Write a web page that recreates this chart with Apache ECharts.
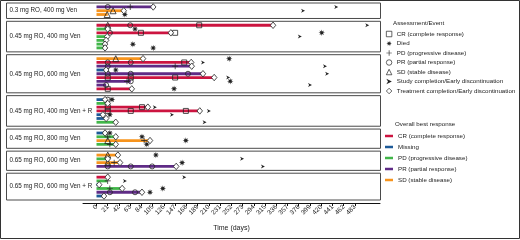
<!DOCTYPE html>
<html>
<head>
<meta charset="utf-8">
<style>
  html, body { margin: 0; padding: 0; background: #fff; }
  #chart { width: 520px; height: 240px; }
</style>
<script src="https://cdn.jsdelivr.net/npm/echarts@6/dist/echarts.min.js"></script>
</head>
<body>
<div id="chart"></div>
<script>
/* Swimmer plot: one bar per patient, grouped by cohort, with assessment markers */

const FONT = 'Liberation Sans, Arial, sans-serif';

// Cohorts (panels) and how many patients each holds
const panelNames = [
  '0.3 mg RO, 400 mg Ven',
  '0.45 mg RO, 400 mg Ven',
  '0.45 mg RO, 600 mg Ven',
  '0.45 mg RO, 400 mg Ven + R',
  '0.45 mg RO, 800 mg Ven',
  '0.65 mg RO, 600 mg Ven',
  '0.65 mg RO, 600 mg Ven + R',
];
const panelRows = [3, 7, 9, 7, 4, 4, 6];

// Overall best response per patient row (top to bottom) and last day on treatment
const rowResponse = [
  'PR', 'SD', 'SD',
  'CR', 'PD', 'CR', 'PD', 'PD', 'PD', 'PD',
  'SD', 'CR', 'PR', 'Missing', 'PR', 'CR', 'PR', 'PR', 'CR',
  'Missing', 'PD', 'CR', 'CR', 'Missing', 'Missing', 'PD',
  'Missing', 'PD', 'SD', 'PD',
  'SD', 'PD', 'SD', 'PR',
  'CR', 'PD', 'Missing', 'PD', 'PR', 'Missing',
];
const rowEnd = [
  106, 51, 21,
  330, 21, 139, 20, 18, 16, 16,
  87, 177, 178, 16, 199, 220, 64, 18, 66,
  16, 21, 98, 193, 12, 18, 35,
  16, 36, 100, 36,
  40, 21, 44, 149,
  20, 20, 5, 48, 85, 14,
];

// Assessment / event markers: [row, day]
const crMarks = [[3, 192], [5, 83], [5, 147], [11, 164], [15, 21], [15, 64], [15, 147], [18, 21],
  [21, 21], [21, 85], [22, 21], [22, 64], [22, 167]];
const diedMarks = [[2, 53], [4, 72], [5, 421], [8, 68], [9, 106], [10, 248], [13, 36], [16, 250],
  [18, 145], [19, 29], [23, 25], [26, 25], [27, 85], [28, 167], [29, 94], [30, 111], [32, 160],
  [37, 124], [38, 100]];
const pdMarks = [[0, 63], [12, 147], [16, 57], [27, 21], [28, 89], [29, 25], [32, 33], [35, 21], [37, 25]];
const prMarks = [[0, 21], [3, 63], [5, 25], [11, 21], [11, 64], [12, 21], [14, 21], [14, 64], [14, 171],
  [16, 64], [17, 18], [19, 21], [33, 21], [33, 64], [33, 104], [38, 25], [38, 72]];
const sdMarks = [[1, 31], [2, 20], [3, 21], [10, 36], [28, 21], [30, 21], [32, 21]];
const studyMarks = [[0, 448], [1, 386], [3, 506], [6, 380], [11, 199], [12, 427], [14, 431], [15, 246],
  [17, 399], [21, 109], [22, 210], [23, 141], [25, 202], [31, 272], [33, 311], [34, 164], [35, 53]];
const treatMarks = [[0, 106], [1, 51], [3, 330], [4, 21], [5, 139], [6, 20], [7, 18], [8, 16], [9, 16],
  [10, 87], [11, 177], [12, 178], [13, 18], [14, 199], [15, 220], [18, 66], [19, 16], [20, 21],
  [21, 96], [22, 193], [23, 12], [24, 18], [25, 36], [26, 16], [27, 36], [28, 100], [29, 36],
  [30, 40], [31, 21], [32, 44], [33, 149], [34, 21], [36, 5], [37, 48], [38, 85], [39, 14]];

// Legend texts and colours
const responseKeys = ['CR', 'Missing', 'PD', 'PR', 'SD'];
const responseNames = ['CR (complete response)', 'Missing', 'PD (progressive disease)',
  'PR (partial response)', 'SD (stable disease)'];
const responseColors = ['#cc1440', '#1d5a98', '#41b649', '#5f2b86', '#f7941d'];

const dayTicks = [0, 21, 42, 63, 84, 105, 126, 147, 168, 189, 210, 231, 252, 273, 294, 315,
  336, 357, 378, 399, 420, 441, 462, 483];

// Row layout (in row units): padding inside each panel box and gap between boxes
const PAD = 0.55, GAP = 0.75;
const rowY = [];
const panelBox = [];
let cursor = 0;
panelRows.forEach((n, p) => {
  const top = cursor;
  for (let i = 0; i < n; i++) rowY.push(top + PAD + 0.5 + i);
  const bottom = top + n + 2 * PAD;
  panelBox.push([top, bottom, p]);
  cursor = bottom + GAP;
});
const yMax = cursor - GAP;

// x scale: day 0 at 96.5px, 0.535 px per day
const PXD = 0.535, X0 = 96.5;
const dataLeft = 6, dataWidth = 375;
const axisLeft = 83, axisWidth = 297;
const xMin = -(X0 - dataLeft) / PXD, xMax = xMin + dataWidth / PXD;
const x2Min = -(X0 - axisLeft) / PXD, x2Max = x2Min + axisWidth / PXD;

const star = (() => {
  const pts = [];
  for (let k = 0; k < 16; k++) {
    const a = Math.PI * k / 8;
    const r = k % 2 ? 0.42 : 1;
    pts.push((5 + 5 * r * Math.sin(a)).toFixed(2) + ',' + (5 - 5 * r * Math.cos(a)).toFixed(2));
  }
  return 'path://M' + pts.join('L') + 'Z';
})();
const plus = 'path://M4.4,0H5.6V4.4H10V5.6H5.6V10H4.4V5.6H0V4.4H4.4Z';
const arrow = 'path://M0,0L10,5L0,10L3,5Z';

const markerDefs = [
  { name: 'CR (complete response)', data: crMarks, symbol: 'rect', size: 5, fill: 'rgba(0,0,0,0)', border: true },
  { name: 'Died', data: diedMarks, symbol: star, size: 6.5, fill: '#222', border: false },
  { name: 'PD (progressive disease)', data: pdMarks, symbol: plus, size: 6, fill: '#222', border: false },
  { name: 'PR (partial response)', data: prMarks, symbol: 'circle', size: 5, fill: 'rgba(0,0,0,0)', border: true },
  { name: 'SD (stable disease)', data: sdMarks, symbol: 'triangle', size: 6, fill: 'rgba(0,0,0,0)', border: true },
  { name: 'Study completion/Early discontinuation', data: studyMarks, symbol: arrow, size: 4, fill: '#222', border: false },
  { name: 'Treatment completion/Early discontinuation', data: treatMarks, symbol: 'diamond', size: [5.5, 6.5], fill: '#fff', border: true },
];

function barItem(params, api) {
  const s = api.coord([0, api.value(1)]);
  const e = api.coord([api.value(0), api.value(1)]);
  return {
    type: 'rect',
    shape: { x: s[0], y: s[1] - 1.4, width: e[0] - s[0], height: 2.8 },
    style: { fill: api.visual('color') },
  };
}

function boxItem(params, api) {
  const cs = params.coordSys;
  const y0 = api.coord([0, api.value(0)])[1];
  const y1 = api.coord([0, api.value(1)])[1];
  return {
    type: 'group',
    children: [
      { type: 'rect', shape: { x: cs.x + 0.5, y: y0, width: cs.width - 1, height: y1 - y0 },
        style: { fill: 'none', stroke: '#4a4a4a', lineWidth: 1 } },
      { type: 'text', x: cs.x + 3.5, y: (y0 + y1) / 2,
        style: { text: panelNames[api.value(2)], fontSize: 6.3, fontFamily: FONT, fill: '#222', verticalAlign: 'middle' } },
    ],
  };
}

const series = [];
series.push({
  type: 'custom', name: 'panels', renderItem: boxItem, clip: false, silent: true, z: 1,
  xAxisIndex: 0, yAxisIndex: 0, encode: { y: [0, 1] },
  data: panelBox,
});
responseKeys.forEach((key, k) => {
  series.push({
    type: 'custom', name: 'best:' + responseNames[k], renderItem: barItem, z: 2,
    xAxisIndex: 0, yAxisIndex: 0, encode: { x: 0, y: 1 },
    itemStyle: { color: responseColors[k] },
    data: rowResponse.map((r, i) => (r === key ? [rowEnd[i], rowY[i]] : null)).filter(Boolean),
  });
});
markerDefs.forEach((m) => {
  series.push({
    type: 'scatter', name: m.name, symbol: m.symbol, symbolSize: m.size, z: 3,
    xAxisIndex: 0, yAxisIndex: 0,
    itemStyle: { color: m.fill, borderColor: m.border ? '#222' : 'transparent', borderWidth: m.border ? 0.8 : 0, opacity: 1 },
    data: m.data.map(([r, d]) => [d, rowY[r]]),
  });
});

const chart = echarts.init(document.getElementById('chart'), null, { renderer: 'canvas' });
chart.setOption({
  animation: false,
  textStyle: { fontFamily: FONT },
  title: [
    { text: 'Assessment/Event', left: 393, top: 20.5, padding: 0,
      textStyle: { fontSize: 6.2, fontWeight: 'normal', color: '#222', fontFamily: FONT } },
    { text: 'Overall best response', left: 395, top: 121.5, padding: 0,
      textStyle: { fontSize: 6.2, fontWeight: 'normal', color: '#222', fontFamily: FONT } },
  ],
  legend: [
    { data: markerDefs.map((m) => m.name), orient: 'vertical', left: 386, top: 30, padding: 0,
      itemWidth: 5.5, itemHeight: 5.5, itemGap: 1.5, selectedMode: false,
      itemStyle: { borderWidth: 0.7 },
      textStyle: { fontSize: 6.2, lineHeight: 8, color: '#222', fontFamily: FONT } },
    { data: responseNames.map((n) => 'best:' + n), formatter: (n) => n.slice(5),
      orient: 'vertical', left: 385, top: 132, padding: 0, icon: 'rect',
      itemWidth: 8, itemHeight: 2.5, itemGap: 3, selectedMode: false,
      itemStyle: { borderWidth: 0 },
      textStyle: { fontSize: 6.2, lineHeight: 8, color: '#222', fontFamily: FONT } },
  ],
  grid: [
    { left: dataLeft, top: 3, width: dataWidth, height: 197 },
    { left: axisLeft, top: 3, width: axisWidth, height: 200 },
  ],
  xAxis: [
    { gridIndex: 0, type: 'value', min: xMin, max: xMax, show: false },
    { gridIndex: 1, type: 'value', min: x2Min, max: x2Max,
      axisLine: { show: true, onZero: false, lineStyle: { color: '#111', width: 1 } },
      axisTick: { show: true, length: 3, customValues: dayTicks, lineStyle: { color: '#111' } },
      axisLabel: { customValues: dayTicks, rotate: 45, fontSize: 6.5, color: '#222', margin: 3, fontFamily: FONT },
      splitLine: { show: false },
      name: 'Time (days)', nameLocation: 'middle', nameGap: 22,
      nameTextStyle: { fontSize: 7, color: '#222', fontFamily: FONT } },
  ],
  yAxis: [
    { gridIndex: 0, type: 'value', inverse: true, min: 0, max: yMax, show: false },
    { gridIndex: 1, type: 'value', min: 0, max: 1, show: false },
  ],
  graphic: [
    { type: 'rect', shape: { x: 0.5, y: 0.5, width: 519, height: 238 },
      style: { fill: 'none', stroke: '#333', lineWidth: 1 }, silent: true },
  ],
  series,
});
</script>
</body>
</html>
